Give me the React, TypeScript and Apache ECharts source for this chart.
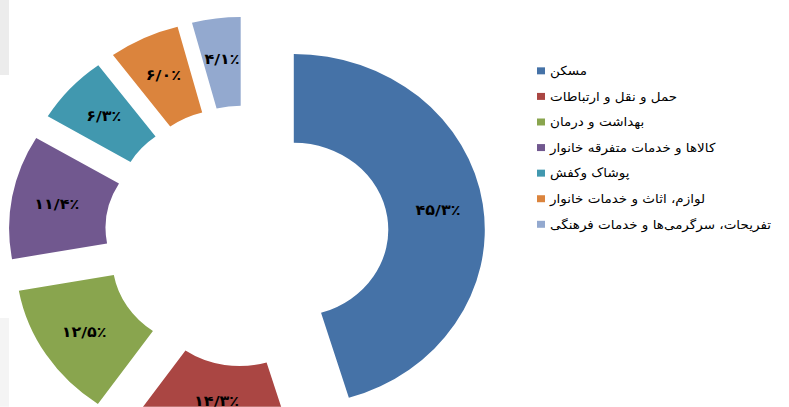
import React, { useEffect, useRef } from "react";
import * as echarts from "echarts";

const categories = [
  "مسکن",
  "حمل و نقل و ارتباطات",
  "بهداشت و درمان",
  "کالاها و خدمات متفرقه خانوار",
  "پوشاک وکفش",
  "لوازم، اثاث و خدمات خانوار",
  "تفریحات، سرگرمی‌ها و خدمات فرهنگی",
];
const shares = [45.3, 14.3, 12.5, 11.4, 6.3, 6.0, 4.1];
const colors = ["#4572A7", "#AA4643", "#89A54E", "#71588F", "#4198AF", "#DB843D", "#93A9CF"];

const SY = 0.92;
const W = 789;
const H = 407;
const CH = H / SY;

function toPersian(v: number): string {
  const digits = "۰۱۲۳۴۵۶۷۸۹";
  return v.toFixed(1).replace(/\d/g, (d) => digits[+d]).replace(".", "/") + "٪";
}

const labelFont = { color: "#000", fontSize: 16, fontWeight: "bold", fontFamily: "DejaVu Sans" };

export default function App() {
  const ref = useRef<HTMLDivElement>(null);
  useEffect(() => {
    document.body.style.margin = "0";
    const chart = echarts.init(ref.current!, null, { renderer: "svg" });
    chart.setOption({
      animation: false,
      backgroundColor: "#ffffff",
      graphic: [
        { type: "rect", left: 0, top: 0, shape: { width: 9, height: 75 / SY }, style: { fill: "#ececec" }, silent: true },
        { type: "rect", left: 0, top: 318 / SY, shape: { width: 9, height: 90 / SY }, style: { fill: "#f4f4f4" }, silent: true },
      ],
      legend: {
        orient: "vertical",
        left: 537,
        top: 70,
        padding: 0,
        itemWidth: 8,
        itemHeight: 7.6,
        itemGap: 13.8,
        icon: "rect",
        selectedMode: false,
        data: categories,
        textStyle: { fontSize: 13.5, lineHeight: 14, color: "#000", fontFamily: "DejaVu Sans" },
      },
      series: [
        {
          type: "pie",
          center: [246.8, 256.5],
          radius: [94.5, 191],
          startAngle: 90,
          clockwise: true,
          selectedMode: "multiple",
          selectedOffset: 47.5,
          avoidLabelOverlap: false,
          label: {
            show: true,
            position: "inside",
            formatter: (p: any) =>
              p.dataIndex === 1
                ? "{v|" + toPersian(shares[p.dataIndex]) + "}\n{s| }"
                : "{v|" + toPersian(shares[p.dataIndex]) + "}",
            ...labelFont,
            rich: {
              v: { ...labelFont, lineHeight: 18 },
              s: { fontSize: 10, lineHeight: 22 },
            },
          },
          labelLine: { show: false },
          emphasis: { disabled: true },
          data: categories.map((n, i) => ({
            name: n,
            value: shares[i],
            selected: true,
            itemStyle: { color: colors[i] },
          })),
        },
      ],
    });
    return () => chart.dispose();
  }, []);
  return (
    <div style={{ width: W, height: H, overflow: "hidden", background: "#fff" }}>
      <div
        ref={ref}
        style={{ width: W, height: CH, transform: `scaleY(${SY})`, transformOrigin: "0 0" }}
      />
    </div>
  );
}
